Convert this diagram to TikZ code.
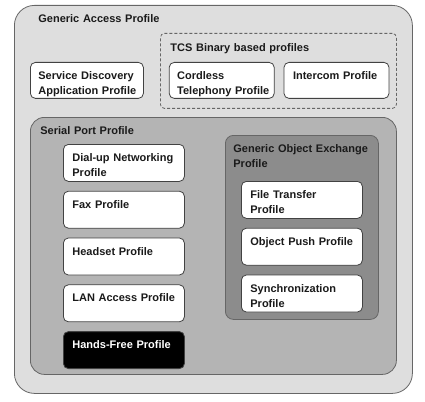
\documentclass[tikz,border=0pt]{standalone}
\usepackage{fontspec}
\setmainfont{Liberation Sans}
\usepackage{tikz}
\usetikzlibrary{positioning}
\hyphenpenalty=10000
\exhyphenpenalty=10000
\definecolor{gapfill}{HTML}{DEDEDE}
\definecolor{sppfill}{HTML}{B4B4B4}
\definecolor{goepfill}{HTML}{8C8C8C}
\definecolor{rimgray}{HTML}{666666}
\definecolor{inkgray}{HTML}{1A1A1A}
\tikzstyle{frame} = [draw=rimgray, line width=0.8pt, anchor=north west, align=left,
    inner ysep=7pt, text height=10pt, text=inkgray]
\tikzstyle{profile} = [frame, draw=rimgray!65!black, fill=white, rounded corners=5pt,
    inner xsep=9pt, text width=103pt, text depth=13pt]
\tikzstyle{toprow} = [profile, text depth=12pt]

\begin{document}
\begin{tikzpicture}[x=1pt, y=-1pt, font=\bfseries\fontsize{11}{15}\selectfont]
    \useasboundingbox (0,0) rectangle (425,401);
    % containers
    \node [frame, fill=gapfill, rounded corners=20pt, inner xsep=24pt, text width=350pt, text depth=364pt] (gap) at (14,5) {Generic Access Profile};
    \node [frame, dashed, dash pattern=on 3pt off 2pt, rounded corners=4pt, inner xsep=10pt, inner ysep=8pt, text width=216pt, text depth=49pt] (tcs) at (160,33) {TCS Binary based profiles};
    \node [frame, fill=sppfill, rounded corners=14pt, inner xsep=10pt, text width=346pt, text depth=233pt] (spp) at (30,117) {Serial Port Profile};
    \node [frame, fill=goepfill, rounded corners=8pt, inner xsep=8pt, text width=137pt, text depth=160pt] (goep) at (225,135) {Generic Object Exchange\\ Profile};
    % GAP row
    \node [toprow, inner xsep=8pt, text width=97pt] (sdap) at (30,62) {Service Discovery\\ Application~Profile};
    \node [toprow, inner xsep=8pt, text width=89pt, right=25pt of sdap] (ctp) {Cordless\\ Telephony~Profile};
    \node [toprow, text width=87pt, right=9pt of ctp] (icp) {Intercom Profile};
    % serial port column
    \node [profile] (dun) at (63,144) {Dial-up Networking\\ Profile};
    \node [profile, below=9pt of dun] (fax) {Fax Profile};
    \node [profile, below=9pt of fax] (hsp) {Headset Profile};
    \node [profile, below=9pt of hsp] (lap) {LAN Access Profile};
    \node [profile, below=9pt of lap, fill=black, text=white] (hfp) {Hands-Free Profile};
    % object exchange column
    \node [profile] (ftp) at (241,181) {File Transfer\\ Profile};
    \node [profile, below=9pt of ftp] (opp) {Object Push Profile};
    \node [profile, below=9pt of opp] (sync) {Synchronization\\ Profile};
\end{tikzpicture}
\end{document}
